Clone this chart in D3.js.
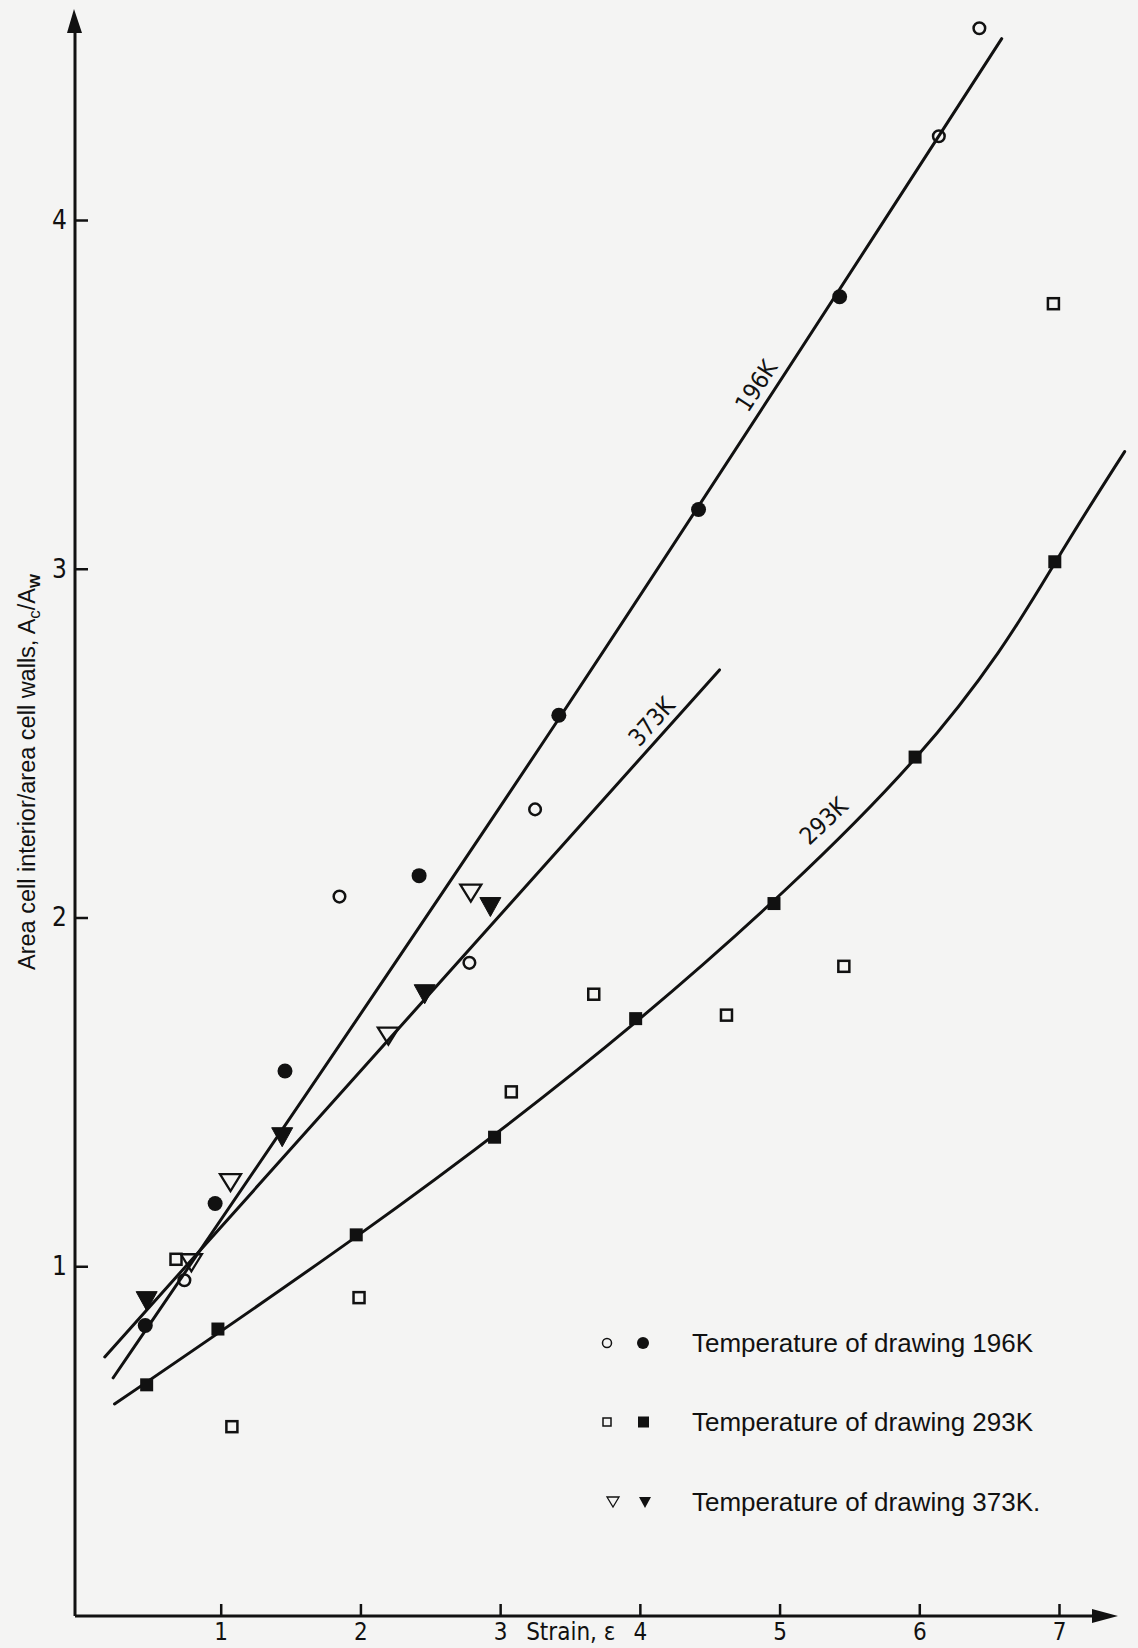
<!DOCTYPE html>
<html>
<head>
<meta charset="utf-8">
<script src="https://cdn.jsdelivr.net/npm/d3@7"></script>
<style>
  html, body { margin: 0; padding: 0; background: #f4f4f3; }
  svg { display: block; }
  .cond { font-family: "DejaVu Sans Condensed", "DejaVu Sans", sans-serif; font-stretch: condensed; }
  .sans { font-family: "Liberation Sans", Arial, sans-serif; }
</style>
</head>
<body>
<svg id="chart" width="1138" height="1648"></svg>
<script>
// ---- data ----
const xTicks = [1, 2, 3, 4, 5, 6, 7];
const yTicks = [1, 2, 3, 4];

const open196   = [[0.74,0.96],[1.85,2.06],[2.78,1.87],[3.25,2.31],[6.14,4.24],[6.43,4.55]];
const filled196 = [[0.46,0.83],[0.96,1.18],[1.46,1.56],[2.42,2.12],[3.42,2.58],[4.42,3.17],[5.43,3.78]];
const filled293 = [[0.47,0.66],[0.98,0.82],[1.97,1.09],[2.96,1.37],[3.97,1.71],[4.96,2.04],[5.97,2.46],[6.97,3.02]];
const open293   = [[0.68,1.02],[1.08,0.54],[1.99,0.91],[3.08,1.50],[3.67,1.78],[4.62,1.72],[5.46,1.86],[6.96,3.76]];
const open373   = [[0.79,1.01],[1.07,1.24],[2.20,1.66],[2.79,2.07]];
const filled373 = [[0.47,0.90],[1.44,1.37],[2.46,1.78],[2.93,2.03]];

const fit196 = [[0.23,0.68],[3.42,2.57],[6.59,4.52]];
const fit373 = [[0.17,0.74],[4.57,2.71]];
const fit293 = [[0.24,0.605],[1.97,1.085],[3.97,1.70],[5.97,2.456],[6.97,3.016],[7.47,3.336]];

const lineLabels = ["196K", "373K", "293K"];
const legendLabels = ["Temperature of drawing 196K", "Temperature of drawing 293K", "Temperature of drawing 373K."];
const xAxisTitle = "Strain, \u03B5";

// ---- layout ----
const ink = "#111";
const svg = d3.select("#chart");
svg.append("rect").attr("width", 1138).attr("height", 1648).attr("fill", "#f4f4f3");

const x = d3.scaleLinear().domain([0, 7]).range([81, 1059]);
const y = d3.scaleLinear().domain([0, 4]).range([1615, 220]);
const axisY0 = 1616;   // pixel row of x-axis
const axisX0 = 75;     // pixel column of y-axis

// axes lines with arrows
const g = svg.append("g");
g.append("line").attr("x1", axisX0).attr("y1", axisY0).attr("x2", 1095).attr("y2", axisY0)
  .attr("stroke", ink).attr("stroke-width", 3);
g.append("path").attr("d", `M1118,${axisY0} L1092,${axisY0-7} L1092,${axisY0+7} Z`).attr("fill", ink);
g.append("line").attr("x1", axisX0).attr("y1", axisY0).attr("x2", axisX0).attr("y2", 28)
  .attr("stroke", ink).attr("stroke-width", 3);
g.append("path").attr("d", `M${axisX0-1},9 L${axisX0-8},33 L${axisX0+7},33 Z`).attr("fill", ink);

// x axis ticks
const xAxis = svg.append("g").attr("transform", `translate(0,${axisY0})`)
  .call(d3.axisBottom(x).tickValues(xTicks).tickFormat(d3.format("d")).tickSizeInner(-12).tickSizeOuter(0).tickPadding(7));
xAxis.select(".domain").remove();
xAxis.selectAll(".tick line").attr("stroke", ink).attr("stroke-width", 2.5);
xAxis.selectAll(".tick text").attr("class", "cond").attr("font-size", 24).attr("fill", ink);

// x axis title
svg.append("text").attr("class", "cond").attr("x", x(3) + 26).attr("y", 1640)
  .attr("font-size", 24).attr("fill", ink).text(xAxisTitle);

// y axis ticks
const yAxis = svg.append("g").attr("transform", `translate(${axisX0},0)`)
  .call(d3.axisLeft(y).tickValues(yTicks).tickFormat(d3.format("d")).tickSizeInner(-13).tickSizeOuter(0).tickPadding(8));
yAxis.select(".domain").remove();
yAxis.selectAll(".tick line").attr("stroke", ink).attr("stroke-width", 2.5);
yAxis.selectAll(".tick text").attr("class", "cond").attr("font-size", 26).attr("fill", ink);

// y axis title
const yt = svg.append("text").attr("class", "sans").attr("font-size", 23.5).attr("fill", ink)
  .attr("text-anchor", "middle").attr("transform", "translate(35,772) rotate(-90)");
yt.append("tspan").text("Area cell interior/area cell walls, A");
yt.append("tspan").attr("font-size", 17).attr("dy", 5).text("c");
yt.append("tspan").attr("dy", -5).text("/A");
yt.append("tspan").attr("font-size", 18).attr("font-weight", "bold").attr("dy", 5).text("w");

// fitted curves
const lineGen = d3.line().x(d => x(d[0])).y(d => y(d[1])).curve(d3.curveNatural);
[fit196, fit373, fit293].forEach(f => {
  svg.append("path").attr("d", lineGen(f)).attr("fill", "none").attr("stroke", ink)
    .attr("stroke-width", 3).attr("stroke-linecap", "round");
});

// curve labels placed along each curve
function addCurveLabel(fit, xv, offset, text) {
  let i = 0;
  while (i < fit.length - 2 && fit[i + 1][0] < xv) i++;
  const p0 = fit[i], p1 = fit[i + 1];
  const t = (xv - p0[0]) / (p1[0] - p0[0]);
  const yv = p0[1] + t * (p1[1] - p0[1]);
  const dx = x(p1[0]) - x(p0[0]), dy = y(p1[1]) - y(p0[1]);
  const ang = Math.atan2(dy, dx) * 180 / Math.PI;
  svg.append("text").attr("class", "cond").attr("font-size", 24).attr("fill", ink)
    .attr("text-anchor", "middle")
    .attr("transform", `translate(${x(xv)},${y(yv)}) rotate(${ang}) translate(0,${-offset})`)
    .text(text);
}
addCurveLabel(fit196, 4.93, 8, lineLabels[0]);
addCurveLabel(fit373, 4.17, 8, lineLabels[1]);
addCurveLabel(fit293, 5.40, 9, lineLabels[2]);

// markers
function circles(data, r, filled) {
  svg.append("g").selectAll("circle").data(data).join("circle")
    .attr("cx", d => x(d[0])).attr("cy", d => y(d[1])).attr("r", r)
    .attr("fill", filled ? ink : "none").attr("stroke", filled ? "none" : ink).attr("stroke-width", 2.5);
}
function squares(data, s, filled) {
  svg.append("g").selectAll("rect").data(data).join("rect")
    .attr("x", d => x(d[0]) - s / 2).attr("y", d => y(d[1]) - s / 2).attr("width", s).attr("height", s)
    .attr("fill", filled ? ink : "none").attr("stroke", filled ? "none" : ink).attr("stroke-width", 2.5);
}
function tris(data, w, h, filled) {
  svg.append("g").selectAll("path").data(data).join("path")
    .attr("d", d => { const cx = x(d[0]), cy = y(d[1]);
      return `M${cx - w/2},${cy - h/2} L${cx + w/2},${cy - h/2} L${cx},${cy + h/2} Z`; })
    .attr("fill", filled ? ink : "none").attr("stroke", ink).attr("stroke-width", filled ? 1 : 2.3)
    .attr("stroke-linejoin", "miter");
}
circles(open196, 5.8, false);
circles(filled196, 7.5, true);
squares(open293, 11, false);
squares(filled293, 13, true);
tris(open373, 21, 17, false);
tris(filled373, 21, 19, true);

// legend
const legRows = [1343, 1422, 1502];
const lg = svg.append("g");
lg.append("circle").attr("cx", 607).attr("cy", legRows[0]).attr("r", 4.5).attr("fill", "none").attr("stroke", ink).attr("stroke-width", 1.5);
lg.append("circle").attr("cx", 643).attr("cy", legRows[0]).attr("r", 6).attr("fill", ink);
lg.append("rect").attr("x", 603).attr("y", legRows[1] - 4).attr("width", 8).attr("height", 8).attr("fill", "none").attr("stroke", ink).attr("stroke-width", 1.5);
lg.append("rect").attr("x", 638).attr("y", legRows[1] - 5.5).attr("width", 11).attr("height", 11).attr("fill", ink);
lg.append("path").attr("d", `M607,${legRows[2]-5} L619,${legRows[2]-5} L613,${legRows[2]+5} Z`).attr("fill", "none").attr("stroke", ink).attr("stroke-width", 1.3);
lg.append("path").attr("d", `M639,${legRows[2]-5} L651,${legRows[2]-5} L645,${legRows[2]+6} Z`).attr("fill", ink);
legendLabels.forEach((t, i) => {
  lg.append("text").attr("class", "sans").attr("x", 692).attr("y", legRows[i]).attr("dy", "0.36em")
    .attr("font-size", 26).attr("fill", ink).text(t);
});
</script>
</body>
</html>
